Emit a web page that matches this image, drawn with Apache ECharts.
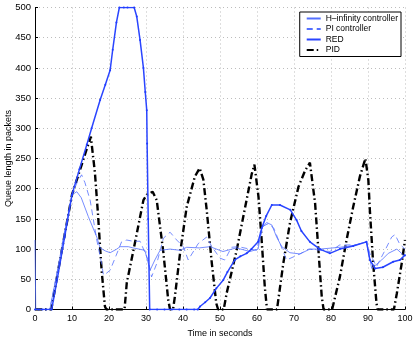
<!DOCTYPE html>
<html>
<head>
<meta charset="utf-8">
<script src="https://cdn.jsdelivr.net/npm/echarts@6/dist/echarts.min.js"></script>
<style>
  html, body { margin: 0; padding: 0; background: #fff; }
  #chart { width: 415px; height: 339px; }
</style>
</head>
<body>
<div id="chart"></div>
<script>
// values (time in s, queue in packets)
var hinfTime = [0, 0.2, 4, 6, 8, 10, 10.5, 11.3, 12.5, 14.4, 16.7, 17.6, 19, 20.3, 22.1, 23, 25.2, 26.5, 29.7, 31.1, 32.4, 33.8, 36.5, 39.2, 41, 44.4, 47.3, 50.8, 54.4, 58.1, 60.3, 61.3, 62.6, 64, 65.3, 66.7, 68.9, 71.6, 74.3, 77, 82.4, 86, 89.6, 91, 93.7, 95.5, 97.8, 99.6, 100]
var hinfQueue = [115, 0, 0, 62, 128, 190, 193, 195, 185, 154, 120, 102, 97, 94, 100, 104, 104, 102, 98, 65, 82, 98, 100, 98, 103, 102, 104, 96, 102, 96, 100, 135, 144, 140, 120, 104, 94, 92, 100, 100, 103, 106, 112, 68, 82, 93, 100, 90, 92]

var piTime = [0, 4, 6, 8, 10, 11.5, 12.6, 13.5, 14.9, 16.7, 18, 18.5, 19.3, 20.3, 21.9, 23.4, 24.8, 26.5, 28.4, 30.6, 31.5, 32.9, 34.7, 36.5, 38.3, 40.1, 41.4, 44.1, 46.4, 47.8, 50, 51.3, 53.1, 54.9, 58.1, 59.9, 61.7, 63, 64.5, 66.5, 68, 71.6, 74, 77, 79.7, 82.4, 86.9, 89.6, 90.5, 92.3, 94.6, 96.4, 97.3, 98.6, 100]
var piQueue = [0, 0, 62, 128, 190, 212, 223, 210, 181, 115, 76, 57, 60, 65, 89, 112, 115, 113, 113, 82, 54, 76, 118, 128, 115, 104, 82, 109, 120, 104, 85, 82, 103, 104, 100, 98, 138, 142, 135, 105, 82, 92, 100, 98, 96, 107, 107, 112, 93, 71, 98, 120, 124, 108, 100]

var redTime = [0, 1, 2, 3, 4.5, 6, 8, 10, 12, 14, 15.3, 17.6, 19, 20.3, 21, 22, 22.8, 24, 25, 26.8, 27.5, 28.4, 29.3, 29.8, 30.2, 30.3, 30.6, 31, 33, 35, 37, 39, 41, 43, 44, 44.6, 46, 47.3, 49, 50.9, 52, 54, 55.5, 57.2, 58.5, 60.3, 61.3, 62.5, 64, 66.2, 69, 70.7, 72, 74.3, 77, 79.7, 82.4, 86, 89.6, 90.5, 91.9, 94, 96.8, 98.6, 100]
var redQueue = [0, 0, 0, 0, 0, 50, 120, 190, 232, 273, 300, 347, 372, 396, 430, 475, 500, 500, 500, 500, 485, 446, 400, 360, 330, 275, 150, 0, 0, 0, 0, 0, 0, 0, 0, 5, 12, 19, 35, 49, 62, 82, 88, 93, 100, 112, 135, 155, 173, 173, 165, 148, 130, 112, 100, 93, 100, 105, 112, 82, 68, 70, 79, 82, 90]

var pidTime = [0, 4.4, 7, 10, 12, 14, 15.1, 16.2, 17, 18, 18.9, 19.3, 24.2, 24.8, 27, 29.3, 30.2, 31.8, 32.9, 34.7, 36, 36.5, 37.3, 37.8, 39.2, 41, 43.2, 44.5, 45.5, 46.4, 47.8, 49, 49.5, 51, 51.8, 54.5, 56.3, 58.6, 59.3, 60.4, 61.2, 62.1, 62.7, 65.4, 67.1, 68.9, 71.2, 73, 74.3, 75.7, 76.6, 77.5, 78, 80.3, 82.4, 84.2, 86, 87.8, 89.3, 90.1, 90.5, 91.4, 92.3, 92.6, 97, 97.8, 99.1, 100]
var pidQueue = [0, 0, 90, 190, 228, 266, 286, 226, 160, 65, 5, 0, 0, 44, 110, 181, 190, 195, 181, 94, 16, 0, 0, 21, 93, 170, 220, 234, 215, 165, 76, 10, 0, 0, 27, 98, 154, 225, 240, 187, 120, 38, 0, 0, 76, 143, 203, 230, 243, 176, 98, 21, 0, 0, 54, 115, 170, 220, 250, 214, 165, 76, 10, 0, 0, 27, 76, 115]

var xTicks = [0, 10, 20, 30, 40, 50, 60, 70, 80, 90, 100]
var yTicks = [0, 50, 100, 150, 200, 250, 300, 350, 400, 450, 500]

function zip(xs, ys) {
  return xs.map(function(x, i) { return [x, ys[i]] })
}

var chart = echarts.init(document.getElementById('chart'))
var font = 'Liberation Sans, Arial, sans-serif'
var gridLine = { show: true, lineStyle: { color: '#bdbdbd', type: [1, 3], width: 1 } }

chart.setOption({
  animation: false,
  backgroundColor: '#fff',
  textStyle: { fontFamily: font },
  grid: {
    left: 35,
    right: 10,
    top: 7.5,
    bottom: 29.5,
    outerBoundsMode: 'none',
    containLabel: false
  },
  legend: {
    orient: 'vertical',
    right: 14,
    top: 12,
    backgroundColor: '#fff',
    borderColor: '#000',
    borderWidth: 1,
    borderRadius: 0,
    padding: [2, 3, 2, 6],
    itemGap: 1.5,
    itemWidth: 14,
    itemHeight: 9,
    textStyle: { fontSize: 8.5, color: '#000', fontFamily: font },
    data: [
      { name: 'H\u2013infinity controller', itemStyle: { opacity: 0 } },
      { name: 'PI controller', itemStyle: { opacity: 0 } },
      { name: 'RED', itemStyle: { opacity: 0 } },
      { name: 'PID', itemStyle: { opacity: 0 } }
    ]
  },
  xAxis: {
    type: 'value',
    min: 0,
    max: 100,
    interval: 10,
    name: 'Time in seconds',
    nameLocation: 'middle',
    nameGap: 20,
    nameMoveOverlap: false,
    nameTextStyle: { fontSize: 9, color: '#000' },
    axisLine: { lineStyle: { color: '#000', width: 1 } },
    axisTick: { inside: true, length: 3, lineStyle: { color: '#000' } },
    axisLabel: { fontSize: 9, color: '#000', margin: 5, formatter: function(v) { return xTicks.indexOf(v) >= 0 ? String(v) : '' } },
    splitLine: gridLine
  },
  yAxis: {
    type: 'value',
    min: 0,
    max: 500,
    interval: 50,
    name: 'Queue length in packets',
    nameLocation: 'middle',
    nameGap: 22,
    nameMoveOverlap: false,
    nameTextStyle: { fontSize: 9, color: '#000' },
    axisLine: { show: true, lineStyle: { color: '#000', width: 1 } },
    axisTick: { show: true, inside: true, length: 3, lineStyle: { color: '#000' } },
    axisLabel: { fontSize: 9.5, color: '#000', margin: 4, formatter: function(v) { return yTicks.indexOf(v) >= 0 ? String(v) : '' } },
    splitLine: gridLine
  },
  series: [
    {
      name: 'H\u2013infinity controller',
      type: 'line',
      symbol: 'none',
      itemStyle: { color: '#5470ff' },
      lineStyle: { color: '#5470ff', width: 0.8 },
      data: zip(hinfTime, hinfQueue),
      z: 3
    },
    {
      name: 'PI controller',
      type: 'line',
      symbol: 'none',
      itemStyle: { color: '#5470ff' },
      lineStyle: { color: '#5470ff', width: 0.8, type: [6, 4] },
      data: zip(piTime, piQueue),
      z: 3
    },
    {
      name: 'RED',
      type: 'line',
      symbol: 'circle',
      symbolSize: 2,
      itemStyle: { color: '#1f3cff' },
      lineStyle: { color: '#2a45ff', width: 1.5 },
      data: zip(redTime, redQueue),
      z: 4
    },
    {
      name: 'PID',
      type: 'line',
      symbol: 'none',
      itemStyle: { color: '#000' },
      lineStyle: { color: '#000', width: 2.4, type: [7, 3, 1.5, 3] },
      data: zip(pidTime, pidQueue),
      z: 2
    }
  ]
})
</script>
</body>
</html>
